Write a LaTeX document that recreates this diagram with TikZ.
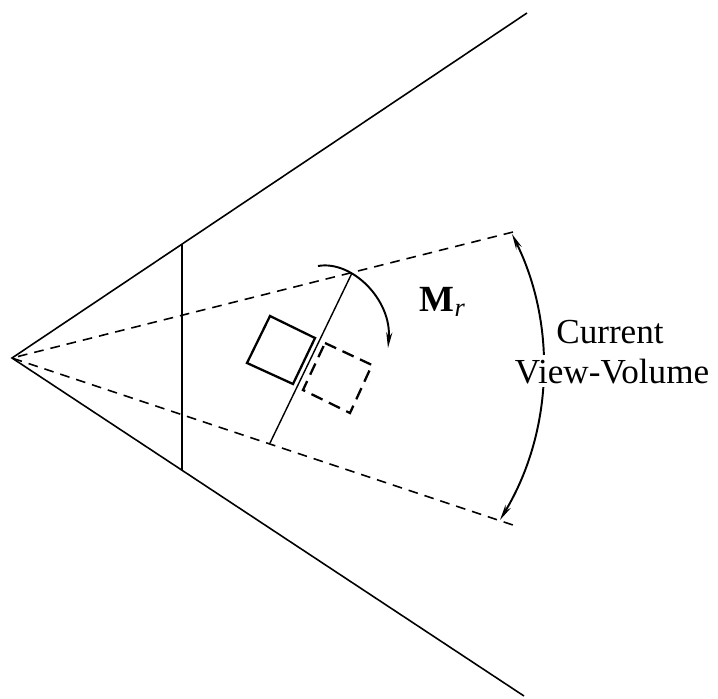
\documentclass[tikz,border=0pt]{standalone}
\usepackage{fontspec}
\setmainfont{Liberation Serif}
\usetikzlibrary{arrows.meta}

\begin{document}
\begin{tikzpicture}[x=0.02cm,y=-0.02cm,
    ray/.style={line width=0.9pt},
    sight/.style={line width=0.9pt, dash pattern=on 5.5pt off 4pt},
    box/.style={line width=1.3pt, line join=miter},
    tip/.style={line width=1.1pt},
    lbl/.style={font=\fontsize{20}{24}\selectfont, inner sep=2pt}]
    \useasboundingbox (0,0) rectangle (718,698);

    % Viewing cone
    \coordinate (eye) at (12,358);
    \coordinate (top) at (527,13);
    \coordinate (bot) at (524,696);
    \draw[ray] (top) -- (eye) -- (bot);
    \coordinate (wtop) at (182,244);
    \coordinate (wbot) at (182,470);
    \draw[ray] (wtop) -- (wbot);

    % Current view-volume
    \coordinate (vtop) at (513,232);
    \coordinate (vbot) at (513,525);
    \draw[sight] (vtop) -- (eye) -- (vbot);

    % Rotated plane and objects
    \coordinate (ptop) at (352,273);
    \coordinate (pbot) at (270,443);
    \draw[line width=0.8pt] (pbot) -- (ptop);
    \draw[box] (270,316) -- (315,338) -- (293,384) -- (247,363) -- cycle;
    \draw[box, dash pattern=on 7pt off 4pt] (325,343) -- (372,365) -- (350,413) -- (303,390) -- cycle;

    % Rotation M_r
    \coordinate (rs) at (318,266);
    \coordinate (re) at (388,348);
    \draw[tip, -{Stealth[length=9pt,width=3.5pt]}] (rs) .. controls (352,260) and (392,300) .. (re);
    \node[lbl, anchor=base west] (mr) at (416,311)
        {\fontsize{21}{24}\selectfont\textbf{M}\raisebox{-0.3ex}{\fontsize{15}{15}\selectfont\itshape r}};

    % Angle of view
    \coordinate (atop) at (512,234);
    \coordinate (abot) at (500,520);
    \draw[tip, {Stealth[length=9pt,width=3.5pt]}-{Stealth[length=9pt,width=3.5pt]}]
        (atop) .. controls (557,325) and (553,432) .. (abot);
    \node[lbl, anchor=base] (cur) at (610,343) {Current};
    \node[lbl, anchor=base, fill=white] (vv) at (612,383) {View-Volume};
\end{tikzpicture}
\end{document}
